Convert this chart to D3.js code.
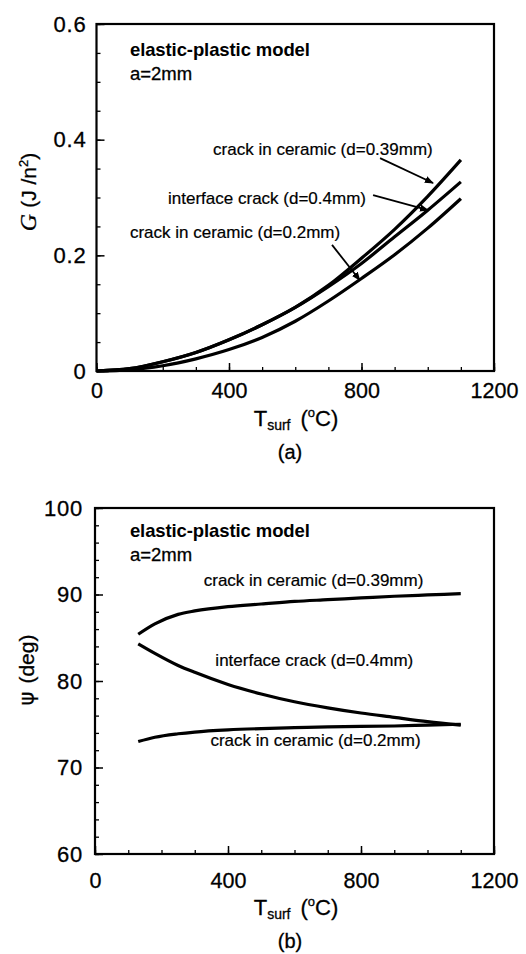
<!DOCTYPE html>
<html><head><meta charset="utf-8">
<script src="https://cdn.jsdelivr.net/npm/d3@7"></script>
<style>body{margin:0;background:#fff}svg{display:block}text{font-family:"Liberation Sans",Arial,Helvetica,sans-serif;fill:#000}</style>
</head><body>
<script>
// ---------- data ----------
const xTickLabels = [0, 400, 800, 1200];
const gTickLabels = [0, 0.2, 0.4, 0.6];
const psiTickLabels = [60, 70, 80, 90, 100];

// (a) energy release rate G vs surface temperature
const T_a = [0, 100, 200, 300, 400, 500, 600, 700, 800, 900, 1000, 1100];
const G_ceramic039 = [0, 0.004, 0.016, 0.032, 0.054, 0.080, 0.110, 0.148, 0.195, 0.245, 0.302, 0.365];
const G_interface04 = [0, 0.004, 0.016, 0.032, 0.054, 0.080, 0.110, 0.146, 0.186, 0.232, 0.278, 0.327];
const G_ceramic02 = [0, 0.002, 0.009, 0.021, 0.037, 0.058, 0.086, 0.121, 0.160, 0.201, 0.247, 0.298];

// (b) phase angle psi vs surface temperature
const T_b = [130, 180, 250, 300, 400, 500, 600, 700, 800, 900, 1000, 1100];
const psi_ceramic039 = [85.4, 86.6, 87.7, 88.1, 88.6, 88.9, 89.2, 89.4, 89.6, 89.8, 89.95, 90.1];
const psi_interface04 = [84.3, 83.2, 81.8, 81.0, 79.6, 78.5, 77.6, 76.9, 76.3, 75.8, 75.3, 74.9];
const psi_ceramic02 = [73.0, 73.5, 73.9, 74.1, 74.35, 74.5, 74.6, 74.7, 74.75, 74.8, 74.9, 75.0];

const W = 526, H = 954;
const svg = d3.select("body").append("svg").attr("width", W).attr("height", H);
const FONT = '"Liberation Sans",Arial,Helvetica,sans-serif';

function panel(opts) {
  const g = svg.append("g");
  const x = d3.scaleLinear().domain([0, 1200]).range([opts.x0, 494]);
  const y = d3.scaleLinear().domain(opts.ydom).range([opts.yb, opts.yt]);
  // minor ticks
  g.append("g").attr("transform", `translate(0,${opts.yb})`)
    .call(d3.axisBottom(x).tickValues(d3.range(0, 1201, 100)).tickSize(-4).tickFormat(""))
    .call(s => s.select(".domain").remove())
    .call(s => s.selectAll("line").attr("stroke-width", 1.3));
  g.append("g").attr("transform", `translate(${opts.x0},0)`)
    .call(d3.axisLeft(y).tickValues(opts.minor).tickSize(-4).tickFormat(""))
    .call(s => s.select(".domain").remove())
    .call(s => s.selectAll("line").attr("stroke-width", 1.3));
  // major ticks
  const xa = g.append("g").attr("transform", `translate(0,${opts.yb})`)
    .call(d3.axisBottom(x).tickValues(xTickLabels).tickSize(-8).tickPadding(opts.xpad).tickFormat(d3.format("d")));
  xa.select(".domain").remove();
  xa.selectAll("line").attr("stroke-width", 1.5);
  xa.selectAll("text").attr("font-size", 21.5).attr("font-family", FONT).attr("fill", "#000")
    .attr("stroke", "#000").attr("stroke-width", 0.3);
  const ya = g.append("g").attr("transform", `translate(${opts.x0},0)`)
    .call(d3.axisLeft(y).tickValues(opts.major).tickSize(-8).tickPadding(opts.ypad).tickFormat(opts.fmt));
  ya.select(".domain").remove();
  ya.selectAll("line").attr("stroke-width", 1.5);
  ya.selectAll("text").attr("font-size", 22).attr("font-family", FONT).attr("fill", "#000")
    .attr("stroke", "#000").attr("stroke-width", 0.3).attr("letter-spacing", 0.8);
  // frame
  g.append("rect").attr("x", opts.x0).attr("y", opts.yt).attr("width", 494 - opts.x0).attr("height", opts.yb - opts.yt)
    .attr("fill", "none").attr("stroke", "#000").attr("stroke-width", 2.2);
  // curves
  const line = d3.line().curve(d3.curveMonotoneX).x(d => x(d[0])).y(d => y(d[1]));
  opts.series.forEach(s => {
    g.append("path").datum(opts.T.map((t, i) => [t, s[i]]))
      .attr("d", line).attr("fill", "none").attr("stroke", "#000").attr("stroke-width", 3.2)
      .attr("stroke-linecap", "butt");
  });
  // header text
  g.append("text").attr("x", x(opts.hdr[0])).attr("y", y(opts.hdr[1]))
    .attr("font-size", 18.5).attr("font-weight", "bold").attr("letter-spacing", -0.1).text("elastic-plastic model");
  g.append("text").attr("x", x(opts.hdr[0])).attr("y", y(opts.hdr[2]))
    .attr("font-size", 18.5).attr("stroke", "#000").attr("stroke-width", 0.3).text("a=2mm");
  opts.labels.forEach(l => {
    g.append("text").attr("x", x(l[0])).attr("y", y(l[1])).attr("font-size", 17)
      .attr("stroke", "#000").attr("stroke-width", 0.2).text(l[2]);
  });
  // x title
  const xt = g.append("text").attr("x", 296).attr("y", opts.xtitleY).attr("text-anchor", "middle").attr("font-size", 22)
    .attr("stroke", "#000").attr("stroke-width", 0.3);
  xt.append("tspan").text("T");
  xt.append("tspan").attr("font-size", 14).attr("dy", 4).text("surf");
  xt.append("tspan").attr("dy", -4).attr("dx", 10).text("(");
  xt.append("tspan").attr("font-size", 13).attr("dy", -9).text("o");
  xt.append("tspan").attr("dy", 9).text("C)");
  g.append("text").attr("x", 290).attr("y", opts.capY).attr("text-anchor", "middle").attr("font-size", 20)
    .attr("stroke", "#000").attr("stroke-width", 0.3).text(opts.cap);
  return {g, x, y};
}

// ----- panel (a) -----
const A = panel({
  x0: 96.5, yt: 24, yb: 371, ydom: [0, 0.6],
  major: gTickLabels, minor: d3.range(0, 0.601, 0.05), fmt: d => d === 0 ? "0" : d3.format(".1f")(d),
  xpad: 12, ypad: 10,
  T: T_a, series: [G_ceramic039, G_interface04, G_ceramic02],
  hdr: [101, 0.545, 0.503],
  labels: [[352, 0.3735, "crack in ceramic (d=0.39mm)"], [216, 0.289, "interface crack (d=0.4mm)"], [101, 0.230, "crack in ceramic (d=0.2mm)"]],
  xtitleY: 426, capY: 459, cap: "(a)"
});
// arrows in panel (a)
const arrows = [[856, 0.368, 1016, 0.325], [835, 0.304, 1001, 0.278], [711, 0.218, 795, 0.157]];
svg.append("defs").append("marker").attr("id", "ah").attr("viewBox", "0 0 10 10").attr("refX", 9).attr("refY", 5)
  .attr("markerWidth", 5).attr("markerHeight", 5).attr("orient", "auto")
  .append("path").attr("d", "M0,1 L10,5 L0,9 z").attr("fill", "#000");
arrows.forEach(a => {
  A.g.append("line").attr("x1", A.x(a[0])).attr("y1", A.y(a[1])).attr("x2", A.x(a[2])).attr("y2", A.y(a[3]))
    .attr("stroke", "#000").attr("stroke-width", 1.8).attr("marker-end", "url(#ah)");
});
// y title (a)
const ya = A.g.append("text").attr("transform", "translate(36,192) rotate(-90)").attr("text-anchor", "middle").attr("font-size", 21)
  .attr("stroke", "#000").attr("stroke-width", 0.3);
ya.append("tspan").attr("font-family", '"Liberation Serif","DejaVu Serif",serif').attr("font-style", "italic").attr("font-size", 24).text("G");
ya.append("tspan").attr("dx", 6).text("(J /n");
ya.append("tspan").attr("font-size", 13).attr("dy", -8).text("2");
ya.append("tspan").attr("dy", 8).text(")");

// ----- panel (b) -----
const B = panel({
  x0: 95, yt: 508, yb: 854, ydom: [60, 100],
  major: psiTickLabels, minor: d3.range(60, 100.1, 2), fmt: d3.format("d"),
  xpad: 19, ypad: 12,
  T: T_b, series: [psi_ceramic039, psi_interface04, psi_ceramic02],
  hdr: [105, 96.65, 93.9],
  labels: [[327, 90.98, "crack in ceramic (d=0.39mm)"], [362, 81.73, "interface crack (d=0.4mm)"], [347, 72.5, "crack in ceramic (d=0.2mm)"]],
  xtitleY: 915, capY: 948, cap: "(b)"
});
const yb = B.g.append("text").attr("transform", "translate(34,670) rotate(-90)").attr("text-anchor", "middle").attr("font-size", 21)
  .attr("stroke", "#000").attr("stroke-width", 0.3);
yb.append("tspan").attr("font-family", '"DejaVu Sans",sans-serif').text("ψ");
yb.append("tspan").attr("dx", 8).text("(deg)");
</script>
</body></html>
